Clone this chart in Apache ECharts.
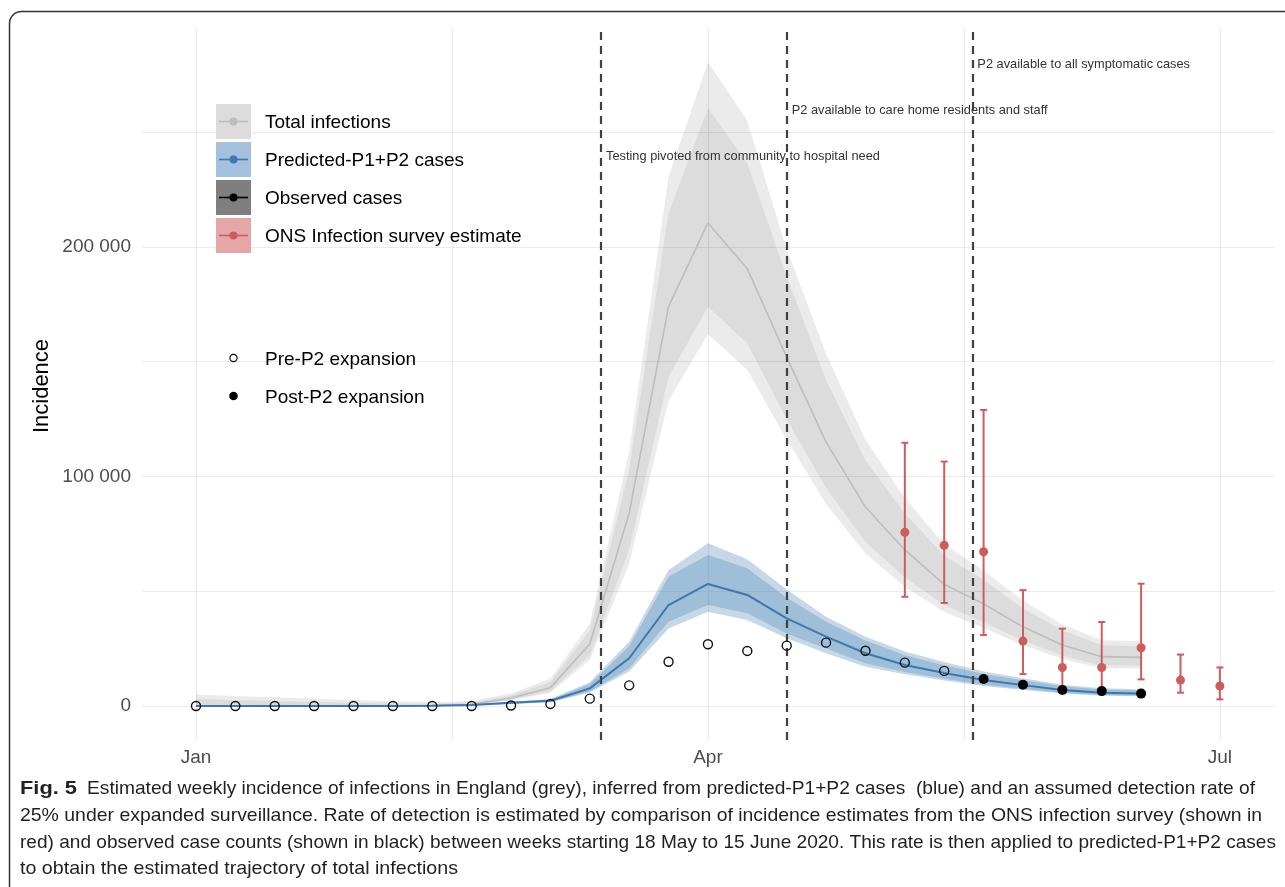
<!DOCTYPE html>
<html>
<head>
<meta charset="utf-8">
<script src="https://cdn.jsdelivr.net/npm/echarts@6/dist/echarts.min.js"></script>
<style>
html,body{margin:0;padding:0;background:#fff;}
#chart{width:1285px;height:887px;}
</style>
</head>
<body>
<div id="chart"></div>
<script>
// ---------- DATA (values in thousands) ----------
const weekDates = ['2020-01-01','2020-01-08','2020-01-15','2020-01-22','2020-01-29','2020-02-05','2020-02-12',
  '2020-02-19','2020-02-26','2020-03-04','2020-03-11','2020-03-18','2020-03-25','2020-04-01','2020-04-08',
  '2020-04-15','2020-04-22','2020-04-29','2020-05-06','2020-05-13','2020-05-20','2020-05-27','2020-06-03',
  '2020-06-10','2020-06-17','2020-06-24','2020-07-01'];

// Total infections (grey), weeks 0..24
const totalMid       = [0.1,0.1,0.1,0.1,0.1,0.1,0.2,0.6,3.5,8,27,84,174,210.5,190.5,152,115,86.7,68,53,44.5,34.5,26.6,21.5,21.2];
const totalOuterLow  = [0,0,0,0,0,0,0,0.3,2.4,5.8,20,62,133,162,146.4,116,88,66.5,52,41,34,26.5,20.5,16.5,16.3];
const totalInnerLow  = [0,0,0,0,0,0,0.1,0.4,2.8,6.4,22,68,143.5,174,158,125,95,71.5,56,44,36.5,28.5,22,17.7,17.5];
const totalInnerHigh = [3,2.6,2.2,1.8,1.4,1.1,1,1.5,4.6,10.5,33,103,214.7,260.5,236.5,187,142,107,84,65.5,55,42.5,33,26.5,26.2];
const totalOuterHigh = [5,4.4,3.8,3.2,2.6,2.1,1.6,2.2,5.5,12,36,111,230.6,280.6,255,199,153.5,116,90.5,70.5,59,46,35.5,28.6,28.2];

// Predicted P1+P2 cases (blue), weeks 0..24
const predMid       = [0.05,0.05,0.05,0.05,0.05,0.05,0.1,0.4,1.4,2.3,7.7,20.8,44,53.2,48.4,38.2,30.2,23,17.9,14.4,11.3,9.1,7,5.8,5.5];
const predOuterLow  = [0,0,0,0,0,0,0,0.2,0.9,1.6,5.9,15,33.8,41.1,37.5,29.5,23,17.1,13.8,11.1,8.7,7,5.4,4.5,4.2];
const predInnerLow  = [0,0,0,0,0,0,0.05,0.25,1,1.8,6.3,16.4,36.7,44,40.4,31.6,25.1,18.6,14.8,11.9,9.3,7.5,5.8,4.8,4.5];
const predInnerHigh = [0.1,0.1,0.1,0.1,0.1,0.1,0.2,0.5,1.7,2.8,9.5,26,56.3,65.8,60,47.2,36.7,28.5,22.1,17.8,14,11.2,8.6,7.2,6.8];
const predOuterHigh = [0.2,0.2,0.2,0.2,0.2,0.2,0.3,0.6,1.9,3.1,10.3,28,59.3,70.9,64,50.8,38.9,30.2,23.8,19.2,15,12.1,9.3,7.7,7.3];

// Observed cases
const observedPre  = [0,0,0,0,0,0,0,0,0.2,0.9,3.2,9,19.3,26.9,24,26.3,27.6,24.1,18.9,15.3]; // weeks 0..19
const observedPost = [11.8,9.3,7,6.5,5.4];                                                   // weeks 20..24

// ONS infection survey estimate, weeks 18..26
const onsMid  = [75.7,70,67.2,28.3,16.8,16.8,25.4,11.3,8.7];
const onsLow  = [47.6,44.9,30.9,13.9,8.4,6.5,11.6,5.8,2.9];
const onsHigh = [114.7,106.5,129,50.5,33.7,36.6,53.3,22.4,16.8];

// Policy changes
const policyDates  = ['2020-03-13','2020-04-15','2020-05-18'];
const policyLabels = ['Testing pivoted from community to hospital need','P2 available to care home residents and staff','P2 available to all symptomatic cases'];
const policyLabelY = [240000,260000,280000];

// Axis ticks
const monthTickDates = ['2020-01-01','2020-04-01','2020-07-01'];
const monthLabels    = ['Jan','Apr','Jul'];
const xGridDates     = ['2020-01-01','2020-02-15T12:00:00Z','2020-04-01','2020-05-16T12:00:00Z','2020-07-01'];
const yLabelValues   = [0,100000,200000];
const yGridValues    = [0,50000,100000,150000,200000,250000];

// Legend
const legendNames  = ['Total infections','Predicted-P1+P2 cases','Observed cases','ONS Infection survey estimate'];
const shapeNames   = ['Pre-P2 expansion','Post-P2 expansion'];

// Caption
const captionBold = 'Fig. 5';
const captionLines = [
  'Estimated weekly incidence of infections in England (grey), inferred from predicted-P1+P2 cases  (blue) and an assumed detection rate of',
  '25% under expanded surveillance. Rate of detection is estimated by comparison of incidence estimates from the ONS infection survey (shown in',
  'red) and observed case counts (shown in black) between weeks starting 18 May to 15 June 2020. This rate is then applied to predicted-P1+P2 cases',
  'to obtain the estimated trajectory of total infections'
];

// ---------- helpers ----------
const T0 = Date.parse('2020-01-01T00:00:00Z');
const dayOf = s => (Date.parse(s.length === 10 ? s + 'T00:00:00Z' : s) - T0) / 86400000;
const weekDays = weekDates.map(dayOf);
const K = 1000;
const FONT = '"Liberation Sans", Arial, Helvetica, sans-serif';

function pts(arr, offset) { return arr.map((v, i) => [weekDays[i + (offset || 0)], v * K]); }

// a ribbon drawn as one polygon through the axis scales
function band(low, high, color, z) {
  return {
    type: 'custom', z: z, silent: true,
    encode: {x: 0, y: [1, 2]},
    data: low.map((v, i) => [weekDays[i], v * K, high[i] * K]),
    renderItem: function (params, api) {
      if (params.dataIndexInside !== 0) return null;
      const n = params.dataInsideLength, dn = [], up = [];
      for (let j = 0; j < n; j++) {
        const x = api.value(0, j);
        dn.push(api.coord([x, api.value(1, j)]));
        up.push(api.coord([x, api.value(2, j)]));
      }
      return {type: 'polygon', shape: {points: dn.concat(up.reverse())}, style: {fill: color}};
    }
  };
}

const monthTickDays = monthTickDates.map(dayOf);
const policyDays = policyDates.map(dayOf);

const series = [
  band(totalOuterLow, totalOuterHigh, 'rgba(0,0,0,0.08)', 1),
  band(totalInnerLow, totalInnerHigh, 'rgba(0,0,0,0.064)', 1),
  {type: 'line', data: pts(totalMid), symbol: 'none', z: 2, silent: true,
    lineStyle: {color: '#bdbdbd', width: 1.6}},
  band(predOuterLow, predOuterHigh, 'rgba(70,130,180,0.31)', 3),
  band(predInnerLow, predInnerHigh, 'rgba(70,130,180,0.30)', 3),
  {type: 'line', data: pts(predMid), symbol: 'none', z: 4, silent: true,
    lineStyle: {color: '#3b78b0', width: 2},
    markLine: {
      silent: true, symbol: ['none', 'none'], label: {show: false}, animation: false,
      lineStyle: {type: [8, 6], color: '#404040', width: 2.2},
      data: policyDays.map(d => ({xAxis: d}))
    },
    markPoint: {
      silent: true, symbol: 'circle', symbolSize: 0, animation: false,
      data: policyDays.map((d, i) => ({
        coord: [d, policyLabelY[i]],
        label: {show: true, position: 'right', distance: 5, offset: [0, 1.5], formatter: policyLabels[i],
          color: '#333', fontSize: 12.8, fontFamily: FONT}
      }))
    }
  },
  {type: 'custom', z: 5, silent: true,
    encode: {x: 0, y: [1, 2, 3]},
    data: onsMid.map((v, i) => [weekDays[18 + i], v * K, onsLow[i] * K, onsHigh[i] * K]),
    renderItem: function (params, api) {
      const x = api.value(0);
      const lo = api.coord([x, api.value(2)]);
      const hi = api.coord([x, api.value(3)]);
      const st = {stroke: '#cd5c5c', lineWidth: 2};
      return {type: 'group', children: [
        {type: 'line', shape: {x1: lo[0], y1: lo[1], x2: hi[0], y2: hi[1]}, style: st},
        {type: 'line', shape: {x1: lo[0] - 3.5, y1: lo[1], x2: lo[0] + 3.5, y2: lo[1]}, style: st},
        {type: 'line', shape: {x1: hi[0] - 3.5, y1: hi[1], x2: hi[0] + 3.5, y2: hi[1]}, style: st}
      ]};
    }
  },
  {type: 'scatter', z: 6, silent: true, symbol: 'circle', symbolSize: 9,
    data: pts(onsMid, 18), itemStyle: {color: '#cd5c5c', opacity: 1}},
  {type: 'scatter', z: 7, silent: true, symbol: 'circle', symbolSize: 9,
    data: pts(observedPre), itemStyle: {color: 'rgba(0,0,0,0)', borderColor: '#111', borderWidth: 1.4, opacity: 1}},
  {type: 'scatter', z: 8, silent: true, symbol: 'circle', symbolSize: 10,
    data: pts(observedPost, 20), itemStyle: {color: '#000', opacity: 1}}
];

// ---------- graphics: frame, legend, y title, caption ----------
const graphics = [];
graphics.push({type: 'rect', z: 100, silent: true,
  shape: {x: 9.5, y: 11.5, width: 1320, height: 920, r: 12},
  style: {fill: 'none', stroke: '#333', lineWidth: 1.5}});

const boxColors  = ['#dcdcdc', '#a3c1dc', '#7f7f7f', '#e6a6a7'];
const keyColors  = ['#bdbdbd', '#3b78b0', '#000000', '#cd5c5c'];
legendNames.forEach((name, i) => {
  const top = 104 + 38 * i, cy = top + 17.5;
  graphics.push({type: 'rect', z: 100, silent: true, shape: {x: 216, y: top, width: 35, height: 35}, style: {fill: boxColors[i]}});
  graphics.push({type: 'line', z: 101, silent: true, shape: {x1: 219, y1: cy, x2: 248, y2: cy}, style: {stroke: keyColors[i], lineWidth: 1.6}});
  graphics.push({type: 'circle', z: 102, silent: true, shape: {cx: 233.5, cy: cy, r: 4}, style: {fill: keyColors[i]}});
  graphics.push({type: 'text', z: 102, silent: true, x: 265, y: cy + 1.5,
    style: {text: name, font: '19px ' + FONT, fill: '#000', textVerticalAlign: 'middle', textAlign: 'left'}});
});
shapeNames.forEach((name, i) => {
  const cy = 358 + 38 * i;
  graphics.push({type: 'circle', z: 102, silent: true, shape: {cx: 233.5, cy: cy, r: i === 0 ? 3.6 : 4.3},
    style: i === 0 ? {fill: '#fff', stroke: '#000', lineWidth: 1.1} : {fill: '#000'}});
  graphics.push({type: 'text', z: 102, silent: true, x: 265, y: cy + 1.5,
    style: {text: name, font: '19px ' + FONT, fill: '#000', textVerticalAlign: 'middle', textAlign: 'left'}});
});
graphics.push({type: 'text', z: 102, silent: true, x: 42, y: 386, rotation: Math.PI / 2,
  style: {text: 'Incidence', font: '22px ' + FONT, fill: '#000', textVerticalAlign: 'middle', textAlign: 'center'}});

// caption, each line fitted to the width it takes in the figure
const CAP_FONT = '"Liberation Sans", Arial, sans-serif';
const ctx = document.createElement('canvas').getContext('2d');
function fitScale(text, font, target) { ctx.font = font; return target / ctx.measureText(text).width; }
const capY = [789, 816, 843, 869];
const capX = [87, 20, 20, 20];
const capW = [1168, 1242, 1256, 438];
const boldFont = 'bold 19px ' + CAP_FONT;
const regFont = '19px ' + CAP_FONT;
graphics.push({type: 'text', z: 102, silent: true, x: 20, y: capY[0], scaleX: fitScale(captionBold, boldFont, 57),
  style: {text: captionBold, font: boldFont, fill: '#231f20', textVerticalAlign: 'middle', textAlign: 'left'}});
captionLines.forEach((line, i) => {
  graphics.push({type: 'text', z: 102, silent: true, x: capX[i], y: capY[i], scaleX: fitScale(line, regFont, capW[i]),
    style: {text: line, font: regFont, fill: '#231f20', textVerticalAlign: 'middle', textAlign: 'left'}});
});

const fmtNum = v => String(v).replace(/\B(?=(\d{3})+(?!\d))/g, ' ');

const option = {
  animation: false,
  backgroundColor: '#fff',
  grid: {left: 142, right: 10, top: 28, bottom: 147, containLabel: false, outerBoundsMode: 'none'},
  xAxis: {
    type: 'value', min: -9.6, max: 191.8,
    axisLine: {show: false},
    axisTick: {show: false, customValues: xGridDates.map(dayOf)},
    splitLine: {show: true, lineStyle: {color: '#ebebeb', width: 1.2}},
    axisLabel: {customValues: monthTickDays, margin: 8, color: '#4d4d4d', fontSize: 19, fontFamily: FONT,
      formatter: v => monthLabels[monthTickDays.indexOf(v)] || ''}
  },
  yAxis: {
    type: 'value', min: -14810, max: 295420,
    axisLine: {show: false},
    axisTick: {show: false, customValues: yGridValues},
    splitLine: {show: true, lineStyle: {color: '#ebebeb', width: 1.2}},
    axisLabel: {customValues: yLabelValues, margin: 11, color: '#4d4d4d', fontSize: 19, fontFamily: FONT,
      formatter: v => fmtNum(v)}
  },
  graphic: {elements: graphics},
  series: series
};

const chart = echarts.init(document.getElementById('chart'), null, {renderer: 'canvas'});
chart.setOption(option);
</script>
</body>
</html>
